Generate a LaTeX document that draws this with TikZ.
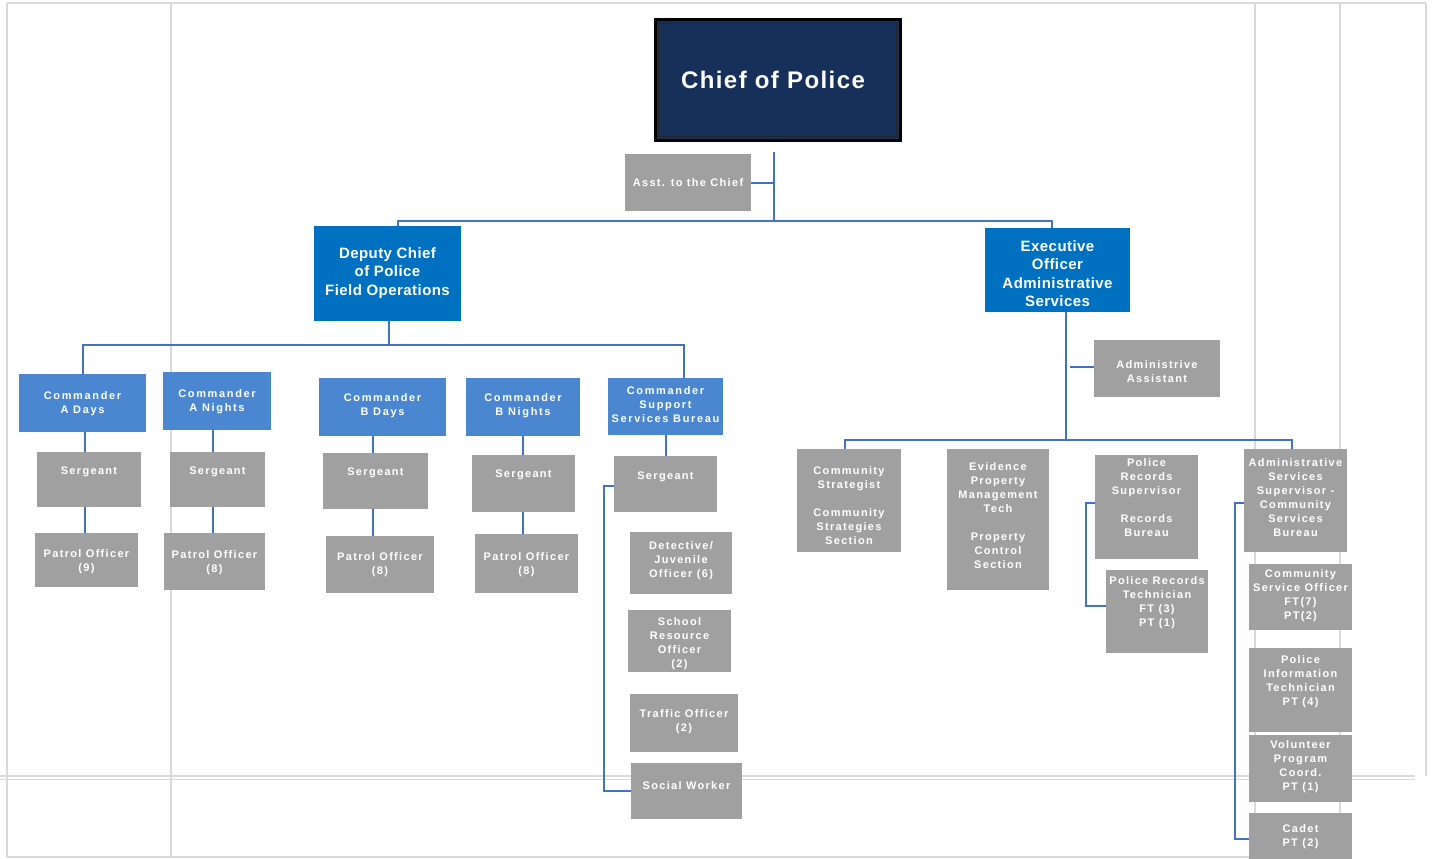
\documentclass[tikz,border=0pt]{standalone}
\usepackage{fontspec}
\setmainfont{Liberation Sans}
\newfontfamily\gfont[LetterSpace=12]{Liberation Sans}
\newfontfamily\cfont[LetterSpace=15]{Liberation Sans}
\newfontfamily\dfont[LetterSpace=3]{Liberation Sans}
\newfontfamily\tfont[LetterSpace=6]{Liberation Sans}
\definecolor{boxgray}{HTML}{A0A0A0}
\definecolor{cmdblue}{HTML}{4B86D1}
\definecolor{depblue}{HTML}{0070C0}
\definecolor{connblue}{HTML}{4472C4}
\definecolor{gridgray}{HTML}{DADADA}
\definecolor{chiefnavy}{HTML}{17305A}
\tikzset{
  conn/.style={draw=connblue, line width=2pt},
  gridl/.style={draw=gridgray, line width=1.6pt},
  gbox/.style={fill=boxgray, inner sep=0pt, outer sep=0pt},
  gboxtxt/.style={text=white, font=\gfont\bfseries\fontsize{11}{14}\selectfont, align=center, inner sep=0pt},
  cbox/.style={fill=cmdblue, inner sep=0pt, outer sep=0pt},
  cboxtxt/.style={text=white, font=\cfont\bfseries\fontsize{11}{14}\selectfont, align=center, inner sep=0pt},
  dbox/.style={fill=depblue, inner sep=0pt, outer sep=0pt},
  dboxtxt/.style={text=white, font=\dfont\bfseries\fontsize{15}{18.5}\selectfont, align=center, inner sep=0pt},
}
\newcommand\bx[8]{%
  \node[#1, minimum width={(#5-#3)*1pt}, minimum height={(#6-#4)*1pt}] (#2) at ({(#3+#5)/2},{(#4+#6)/2}) {};
  \node[#1txt] (#2t) at ({(#3+#5)/2},#7) {#8};}
\begin{document}
\begin{tikzpicture}[x=1pt,y=-1pt]
\useasboundingbox (0,0) rectangle (1432,859);
% background table grid
\draw[gridl] (7,3) -- (1426,3);
\draw[gridl] (7,3) -- (7,857);
\draw[gridl] (171,3) -- (171,857);
\draw[gridl] (1255,3) -- (1255,857);
\draw[gridl] (1340,3) -- (1340,857);
\draw[gridl] (1426,3) -- (1426,776);
\draw[gridl] (0,776) -- (1415,776);
\draw[gridl, line width=1pt] (0,779.5) -- (1415,779.5);
\draw[gridl] (7,857) -- (1340,857);

% chief
\node[fill=chiefnavy, draw=black, line width=3pt, minimum width=245pt, minimum height=120pt, inner sep=0pt] (chief) at (777.5,80) {};
\draw[draw=black!85, line width=1pt] ([xshift=5pt,yshift=-5pt]chief.north west) rectangle ([xshift=-5pt,yshift=5pt]chief.south east);
\node[text=white, font=\tfont\bfseries\fontsize{24}{28}\selectfont, inner sep=0pt] (chieft) at (773,80) {Chief of Police};

\bx{gbox}{asst}{625}{154}{751}{211}{183}{Asst. to the Chief}
\bx{dbox}{dep}{314}{226}{461}{321}{273}{Deputy Chief\\of Police\\Field Operations}
\bx{dbox}{exec}{985}{228}{1130}{312}{273.5}{Executive\\Officer\\Administrative\\Services}

% commanders
\bx{cbox}{cAD}{19}{374}{146}{432}{403.5}{Commander\\A Days}
\bx{cbox}{cAN}{163}{372}{271}{430}{401.5}{Commander\\A Nights}
\bx{cbox}{cBD}{319}{378}{446}{436}{405.5}{Commander\\B Days}
\bx{cbox}{cBN}{466}{378}{580}{436}{406}{Commander\\B Nights}
\bx{cbox}{cSS}{608}{378}{723}{435}{405}{Commander\\Support\\Services Bureau}

% sergeants
\bx{gbox}{sAD}{37}{452}{141}{507}{472}{Sergeant}
\bx{gbox}{sAN}{170}{452}{265}{507}{472}{Sergeant}
\bx{gbox}{sBD}{323}{453}{428}{509}{473}{Sergeant}
\bx{gbox}{sBN}{472}{455}{575}{512}{475}{Sergeant}
\bx{gbox}{sSS}{614}{456}{717}{512}{477}{Sergeant}

% patrol
\bx{gbox}{pAD}{35}{533}{138}{587}{562}{Patrol Officer\\(9)}
\bx{gbox}{pAN}{164}{533}{265}{590}{563}{Patrol Officer\\(8)}
\bx{gbox}{pBD}{326}{536}{434}{593}{564.5}{Patrol Officer\\(8)}
\bx{gbox}{pBN}{475}{534}{578}{593}{564.5}{Patrol Officer\\(8)}

% support services
\bx{gbox}{det}{630}{532}{732}{594}{561}{Detective/\\Juvenile\\Officer (6)}
\bx{gbox}{sro}{628}{610}{731}{672}{643.5}{School\\Resource\\Officer\\(2)}
\bx{gbox}{trf}{630}{694}{738}{752}{722}{Traffic Officer\\(2)}
\bx{gbox}{sw}{631}{763}{742}{819}{786}{Social Worker}

% executive side
\bx{gbox}{aa}{1094}{340}{1220}{397}{372}{Administrive\\Assistant}
\bx{gbox}{cs}{797}{449}{901}{552}{505.5}{Community\\Strategist\\[14pt]Community\\Strategies\\Section}
\bx{gbox}{ev}{947}{449}{1049}{590}{515.5}{Evidence\\Property\\Management\\Tech\\[14pt]Property\\Control\\Section}
\bx{gbox}{rs}{1095}{455}{1198}{559}{498}{Police\\Records\\Supervisor\\[14pt]Records\\Bureau}
\bx{gbox}{rt}{1106}{570}{1208}{653}{603}{Police Records\\Technician\\FT (3)\\PT (1)}
\bx{gbox}{as}{1244}{449}{1347}{552}{497.5}{Administrative\\Services\\Supervisor -\\Community\\Services\\Bureau}
\bx{gbox}{cso}{1249}{564}{1352}{630}{596}{Community\\Service Officer\\FT(7)\\PT(2)}
\bx{gbox}{pit}{1249}{648}{1352}{732}{682}{Police\\Information\\Technician\\PT (4)}
\bx{gbox}{vpc}{1249}{735}{1352}{802}{766.5}{Volunteer\\Program\\Coord.\\PT (1)}
\bx{gbox}{cad}{1249}{813}{1352}{861}{836.5}{Cadet\\PT (2)}

% connectors: chief level
\coordinate (c1) at (774,152);
\coordinate (c2) at (774,221);
\draw[conn] (c1) -- (c2);
\draw[conn] (asst.east) -- (asst.east -| c1);
\draw[conn] ([xshift=10.5pt]dep.north) |- (c2) -| ([xshift=-5.5pt]exec.north);

% deputy level
\coordinate (d2) at (389,345);
\draw[conn] (dep.south -| d2) -- (d2);
\draw[conn] (cAD.north) |- (d2) -| ([xshift=18.5pt]cSS.north);

% commander columns
\coordinate (xAD) at (85,0);
\coordinate (xAN) at (213,0);
\coordinate (xBD) at (373,0);
\coordinate (xBN) at (523,0);
\coordinate (xSS) at (666,0);
\draw[conn] (cAD.south -| xAD) -- (sAD.north -| xAD);
\draw[conn] (sAD.south -| xAD) -- (pAD.north -| xAD);
\draw[conn] (cAN.south -| xAN) -- (sAN.north -| xAN);
\draw[conn] (sAN.south -| xAN) -- (pAN.north -| xAN);
\draw[conn] (cBD.south -| xBD) -- (sBD.north -| xBD);
\draw[conn] (sBD.south -| xBD) -- (pBD.north -| xBD);
\draw[conn] (cBN.south -| xBN) -- (sBN.north -| xBN);
\draw[conn] (sBN.south -| xBN) -- (pBN.north -| xBN);
\draw[conn] (cSS.south -| xSS) -- (sSS.north -| xSS);
\coordinate (xS) at (604,0);
\draw[conn] ([yshift=-2pt]sSS.west) -- ([yshift=-2pt]sSS.west -| xS) |- (sw.west);

% executive level
\coordinate (xE) at (1066,0);
\coordinate (e2) at (1066,440);
\draw[conn] (exec.south -| xE) -- (e2);
\draw[conn] ([yshift=1.5pt]aa.west) -- ([yshift=1.5pt,xshift=-24pt]aa.west);
\coordinate (xCS) at (845,0);
\coordinate (xAS) at (1292,0);
\draw[conn] (cs.north -| xCS) |- (e2) -| (as.north -| xAS);
\coordinate (xR) at (1086,0);
\draw[conn] ([yshift=4pt]rs.west) -- ([yshift=4pt]rs.west -| xR) |- ([yshift=5.5pt]rt.west);
\coordinate (xA) at (1235,0);
\draw[conn] ([yshift=-2.5pt]as.west) -- ([yshift=-2.5pt]as.west -| xA) |- ([yshift=-2pt]cad.west);
\end{tikzpicture}
\end{document}
